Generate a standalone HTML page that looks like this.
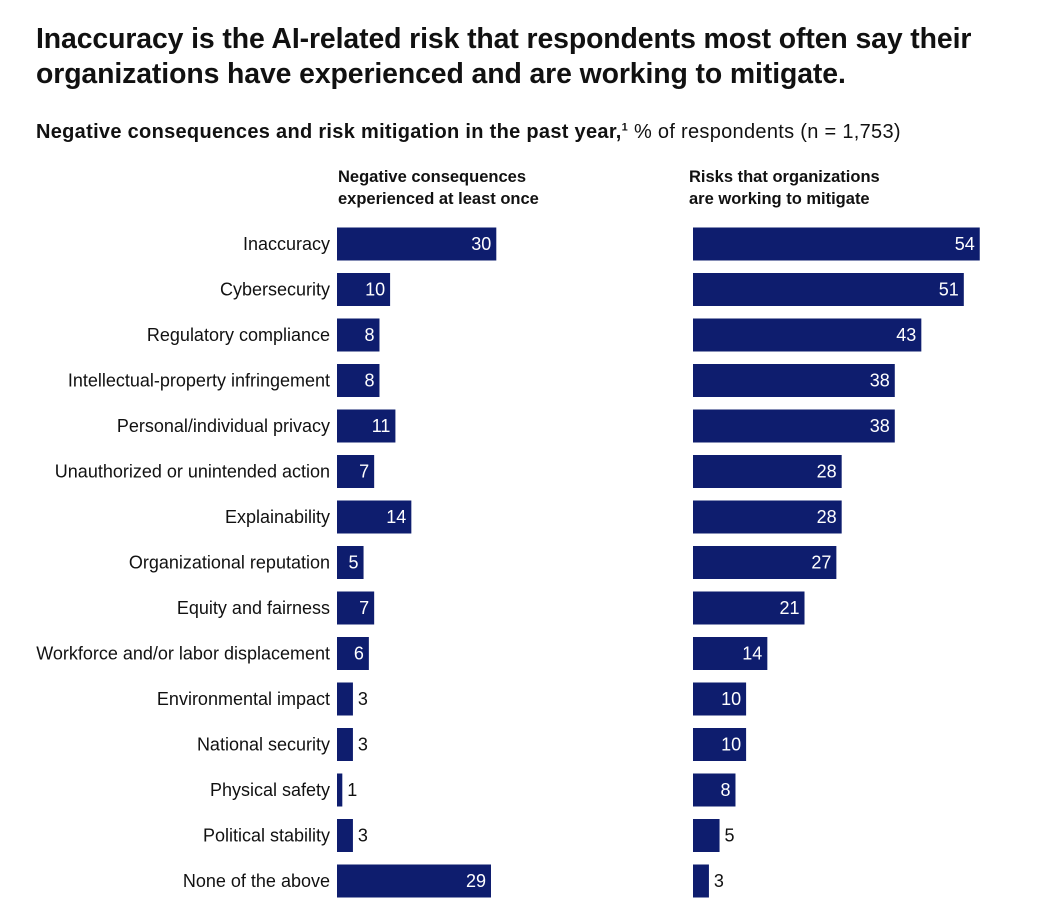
<!DOCTYPE html>
<html><head><meta charset="utf-8">
<style>
body{margin:0;background:#fff;font-family:"Liberation Sans",sans-serif;color:#111;}
#wrap{position:relative;width:1062px;height:922px;overflow:hidden;}
.title{position:absolute;left:36px;top:22px;font-size:28.4px;font-weight:bold;line-height:35px;letter-spacing:-0.1px;}
.sub{position:absolute;left:36px;top:121px;font-size:20px;letter-spacing:0.3px;}
.hdr{position:absolute;top:166px;font-size:16.5px;font-weight:bold;line-height:22px;}
</style></head><body>
<div id="wrap">
<div class="title">Inaccuracy is the AI-related risk that respondents most often say their<br>organizations have experienced and are working to mitigate.</div>
<div class="sub"><b>Negative consequences and risk mitigation in the past year,<sup style="font-size:11px">1</sup></b> % of respondents (n = 1,753)</div>
<div class="hdr" style="left:338px">Negative consequences<br>experienced at least once</div>
<div class="hdr" style="left:689px">Risks that organizations<br>are working to mitigate</div>
<svg id="svg" width="1062" height="922" style="position:absolute;left:0;top:0"></svg>
</div>
<script>
const categories=["Inaccuracy","Cybersecurity","Regulatory compliance","Intellectual-property infringement","Personal/individual privacy","Unauthorized or unintended action","Explainability","Organizational reputation","Equity and fairness","Workforce and/or labor displacement","Environmental impact","National security","Physical safety","Political stability","None of the above"];
const consequences=[30,10,8,8,11,7,14,5,7,6,3,3,1,3,29];
const mitigation=[54,51,43,38,38,28,28,27,21,14,10,10,8,5,3];
const NS="http://www.w3.org/2000/svg";
const svg=document.getElementById('svg');
const scale=5.31, y0=244, step=45.5, bh=33;
const yPos=i=>y0+i*step;
function el(t,a){const e=document.createElementNS(NS,t);for(const k in a)e.setAttribute(k,a[k]);svg.appendChild(e);return e;}
categories.forEach((c,i)=>{
  const t=el('text',{x:330,y:yPos(i)+6,'text-anchor':'end','font-size':18,fill:'#111','font-family':'Liberation Sans, sans-serif'});
  t.textContent=c;
  
  
});
function panel(vals,x0,minIn,name){
  vals.forEach((v,i)=>{
    const w=v*scale;
    const r=el('rect',{x:x0,y:yPos(i)-bh/2,width:w,height:bh,fill:'#0e1d6e'});
    
    
    const inside=v>=minIn;
    const t=el('text',{x:inside?x0+w-5:x0+w+5,y:yPos(i)+6,'text-anchor':inside?'end':'start','font-size':18,fill:inside?'#fff':'#111','font-family':'Liberation Sans, sans-serif'});
    t.textContent=v;
    
    
  });
}
panel(consequences,337,5,'consequences');
panel(mitigation,693,6,'mitigation');
</script>
</body></html>
